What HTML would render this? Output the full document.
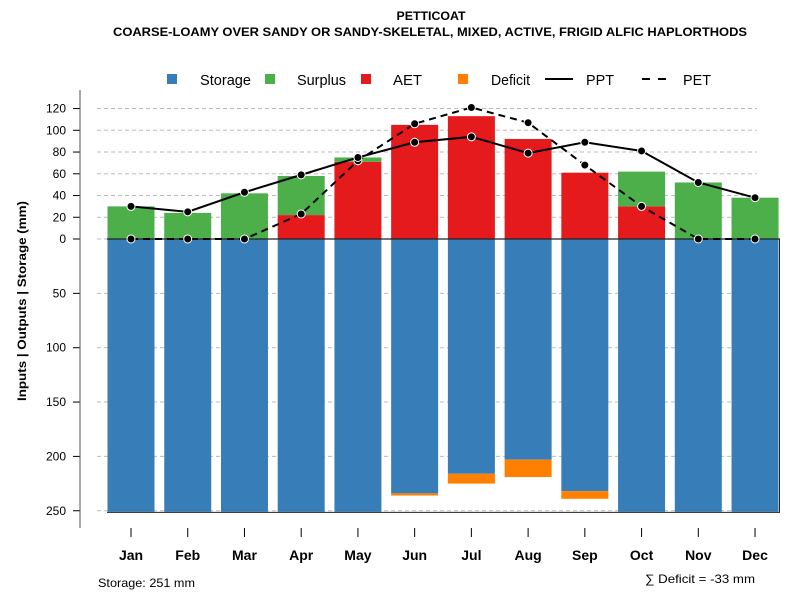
<!DOCTYPE html>
<html><head><meta charset="utf-8"><style>
body{margin:0;background:#fff;}
text{font-family:"Liberation Sans",sans-serif;}
</style></head><body>
<svg id="chart" width="800" height="600" xmlns="http://www.w3.org/2000/svg">
<text x="431" y="20" text-anchor="middle" font-size="12" font-weight="bold" textLength="69" lengthAdjust="spacingAndGlyphs">PETTICOAT</text>
<text x="430" y="36" text-anchor="middle" font-size="12" font-weight="bold" textLength="634" lengthAdjust="spacingAndGlyphs">COARSE-LOAMY OVER SANDY OR SANDY-SKELETAL, MIXED, ACTIVE, FRIGID ALFIC HAPLORTHODS</text>
<g id="legend" font-size="15">
<g><rect x="167" y="74" width="10" height="10" fill="#377eb8"/><text x="200" y="85" textLength="51" lengthAdjust="spacingAndGlyphs">Storage</text></g>
<g><rect x="265" y="74" width="10" height="10" fill="#4daf4a"/><text x="297" y="85" textLength="49" lengthAdjust="spacingAndGlyphs">Surplus</text></g>
<g><rect x="361" y="74" width="10" height="10" fill="#e41a1c"/><text x="393" y="85" textLength="29" lengthAdjust="spacingAndGlyphs">AET</text></g>
<g><rect x="458" y="74" width="10" height="10" fill="#ff7f00"/><text x="491" y="85" textLength="39" lengthAdjust="spacingAndGlyphs">Deficit</text></g>
<g><line x1="545" y1="79" x2="573" y2="79" stroke="#000" stroke-width="2"/><text x="586" y="85" textLength="28" lengthAdjust="spacingAndGlyphs">PPT</text></g>
<g><line x1="642" y1="79" x2="666" y2="79" stroke="#000" stroke-width="2" stroke-dasharray="8,8"/><text x="683" y="85" textLength="28" lengthAdjust="spacingAndGlyphs">PET</text></g>
</g>
<g id="grid"></g><g id="bars"></g><g id="frame"></g><g id="lines"></g><g id="axes"></g>
<text transform="translate(26,301) rotate(-90)" text-anchor="middle" font-size="12" font-weight="bold" textLength="200" lengthAdjust="spacingAndGlyphs">Inputs | Outputs | Storage    (mm)</text>
<text x="98" y="587" font-size="12" textLength="97" lengthAdjust="spacingAndGlyphs">Storage: 251 mm</text>
<text x="755" y="583" text-anchor="end" font-size="12" textLength="110" lengthAdjust="spacingAndGlyphs">∑ Deficit = -33 mm</text>
</svg>
<script>
const months=["Jan","Feb","Mar","Apr","May","Jun","Jul","Aug","Sep","Oct","Nov","Dec"];
const storage=[251,251,251,251,251,234,216,203,232,251,251,251];
const deficit=[0,0,0,0,0,2,9,16,7,0,0,0];
const aet=[0,0,0,22,71,105,113,92,61,30,0,0];
const surplus=[30,24,42,36,4,0,0,0,0,32,52,38];
const ppt=[30,25,43,59,75,89,94,79,89,81,52,38];
const pet=[0,0,0,23,72,106,121,107,68,30,0,0];
const topTicks=[0,20,40,60,80,100,120];
const botTicks=[50,100,150,200,250];
const NS="http://www.w3.org/2000/svg";
const y0=239,k=1.087;
const yUp=v=>y0-v*k, yDown=v=>y0+v*k;
const xC=i=>131+i*56.73, bw=47;
function mk(p,t,a){const e=document.createElementNS(NS,t);for(const q in a)e.setAttribute(q,a[q]);document.getElementById(p).appendChild(e);return e;}
topTicks.forEach(v=>{
 const g=mk('grid','line',{x1:97,x2:757,y1:yUp(v),y2:yUp(v),stroke:'#bbb','stroke-dasharray':'4,3'});
 
 const t=mk('axes','line',{x1:73,x2:80,y1:yUp(v),y2:yUp(v),stroke:'#000'});
 
 const l=mk('axes','text',{x:66,y:yUp(v)+4,'text-anchor':'end','font-size':12});l.textContent=v;
 
});
botTicks.forEach(v=>{
 const g=mk('grid','line',{x1:97,x2:757,y1:yDown(v),y2:yDown(v),stroke:'#bbb','stroke-dasharray':'4,3'});
 
 const t=mk('axes','line',{x1:73,x2:80,y1:yDown(v),y2:yDown(v),stroke:'#000'});
 
 const l=mk('axes','text',{x:66,y:yDown(v)+4,'text-anchor':'end','font-size':12});l.textContent=v;
 
});
const ax=mk('axes','line',{x1:80,x2:80,y1:90,y2:528,stroke:'#555'});

months.forEach((m,i)=>{
 const x=xC(i);
 const sb=mk('bars','rect',{x:x-bw/2,y:y0,width:bw,height:storage[i]*k,fill:'#377eb8'});
 
 if(deficit[i]>0){const d=mk('bars','rect',{x:x-bw/2,y:yDown(storage[i]),width:bw,height:deficit[i]*k,fill:'#ff7f00'});
 }
 if(aet[i]>0){const a=mk('bars','rect',{x:x-bw/2,y:yUp(aet[i]),width:bw,height:aet[i]*k,fill:'#e41a1c'});
 }
 if(surplus[i]>0){const s=mk('bars','rect',{x:x-bw/2,y:yUp(aet[i]+surplus[i]),width:bw,height:surplus[i]*k,fill:'#4daf4a'});
 }
 const t=mk('axes','line',{x1:x,x2:x,y1:528,y2:537,stroke:'#000'});
 
 const l=mk('axes','text',{x:x,y:560,'text-anchor':'middle','font-size':14,'font-weight':'bold'});l.textContent=m;
 
});
const zl=mk('frame','line',{x1:107,x2:780,y1:y0,y2:y0,stroke:'#222','stroke-width':1.2});

const rb=mk('frame','line',{x1:779.5,x2:779.5,y1:y0,y2:yDown(251),stroke:'#222'});

const bb=mk('frame','line',{x1:107,x2:780,y1:yDown(251)+0.5,y2:yDown(251)+0.5,stroke:'#222'});

function series(arr,name,dash){
 const pts=arr.map((v,i)=>xC(i)+','+yUp(v)).join(' ');
 const pl=mk('lines','polyline',{points:pts,fill:'none',stroke:'#000','stroke-width':2,'stroke-dasharray':dash||'none'});
 
 arr.forEach((v,i)=>{const c=mk('lines','circle',{cx:xC(i),cy:yUp(v),r:4,fill:'#000',stroke:'#fff','stroke-width':1});
 });
}
series(pet,'pet','7,5');
series(ppt,'ppt');
</script>
</body></html>
